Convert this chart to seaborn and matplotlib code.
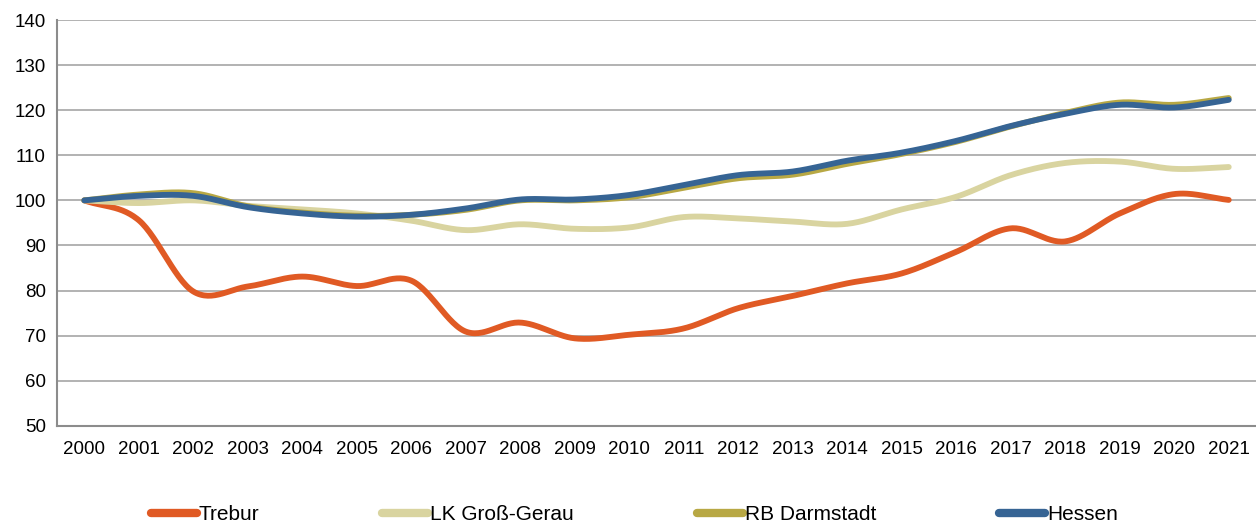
import numpy as np
import pandas as pd
import matplotlib
matplotlib.use('Agg')
import matplotlib.pyplot as plt
import seaborn as sns
from matplotlib.ticker import MultipleLocator, FixedLocator

# values (index, 2000 = 100)
years = list(range(2000, 2022))
trebur = [100, 95.6, 79.8, 80.9, 83.1, 81.0, 82.2, 70.9, 72.9, 69.4, 70.2,
          71.6, 76.1, 78.8, 81.6, 83.8, 88.6, 93.8, 90.9, 97.1, 101.4, 100.1]
lk_gross_gerau = [100, 99.4, 100.0, 98.8, 98.0, 97.1, 95.5, 93.4, 94.7, 93.7, 94.0,
                  96.3, 96.0, 95.3, 94.8, 98.0, 100.8, 105.6, 108.3, 108.6, 107.0, 107.4]
rb_darmstadt = [100, 101.3, 101.6, 98.7, 97.3, 96.6, 96.8, 97.9, 100.0, 100.0, 100.7,
                102.8, 104.9, 105.7, 108.1, 110.3, 113.0, 116.4, 119.4, 121.7, 121.2, 122.7]
hessen = [100, 101.0, 101.0, 98.5, 97.1, 96.4, 96.8, 98.2, 100.2, 100.2, 101.2,
          103.4, 105.6, 106.4, 108.8, 110.6, 113.2, 116.5, 119.2, 121.2, 120.6, 122.3]

series = {'Trebur': trebur, 'LK Groß-Gerau': lk_gross_gerau,
          'RB Darmstadt': rb_darmstadt, 'Hessen': hessen}
colors = {'Trebur': '#E05A24', 'LK Groß-Gerau': '#D9D4A0',
          'RB Darmstadt': '#B8A844', 'Hessen': '#366494'}


def smooth(y, n=30):
    # catmull-rom style smoothing like the spreadsheet "smoothed line" option
    y = np.asarray(y, dtype=float)
    x = np.arange(len(y), dtype=float)
    px = np.concatenate([[2 * x[0] - x[1]], x, [2 * x[-1] - x[-2]]])
    py = np.concatenate([[2 * y[0] - y[1]], y, [2 * y[-1] - y[-2]]])
    xs, ys = [], []
    for i in range(1, len(px) - 2):
        t = np.linspace(0, 1, n, endpoint=False)
        for arr, out in ((px, xs), (py, ys)):
            p0, p1, p2, p3 = arr[i - 1], arr[i], arr[i + 1], arr[i + 2]
            out.append(0.5 * ((2 * p1) + (-p0 + p2) * t +
                              (2 * p0 - 5 * p1 + 4 * p2 - p3) * t ** 2 +
                              (-p0 + 3 * p1 - 3 * p2 + p3) * t ** 3))
    xs.append([x[-1]])
    ys.append([y[-1]])
    return np.concatenate(xs), np.concatenate(ys)


frames = []
for name, vals in series.items():
    sx, sy = smooth(vals)
    frames.append(pd.DataFrame({'x': sx, 'y': sy, 'Gebiet': name}))
df = pd.concat(frames, ignore_index=True)

sns.set_style('white')
plt.rcParams['font.family'] = ['Liberation Sans Narrow', 'Liberation Sans', 'DejaVu Sans']
plt.rcParams['text.color'] = 'black'
plt.rcParams['xtick.labelcolor'] = 'black'
plt.rcParams['ytick.labelcolor'] = 'black'

fig = plt.figure(figsize=(12.56, 5.27), dpi=100)
ax = fig.add_axes([0.0454, 0.192, 0.9546, 0.77])

for name in series:
    sub = df[df['Gebiet'] == name]
    sns.lineplot(data=sub, x='x', y='y', ax=ax, color=colors[name], lw=4.2,
                 sort=False, estimator=None, label=name,
                 solid_capstyle='round')

ax.set_xlim(-0.5, len(years) - 0.5)
ax.set_ylim(50, 140)
ax.yaxis.set_major_locator(MultipleLocator(10))
ax.set_xticks(range(len(years)))
ax.set_xticklabels([str(y) for y in years])
ax.xaxis.set_minor_locator(FixedLocator(np.arange(-0.5, len(years), 1.0)))
ax.tick_params(axis='x', which='major', length=0, pad=11, labelsize=13.5)
ax.tick_params(axis='x', which='minor', length=6, width=1.5, color='#8C8C8C', direction='out')
ax.tick_params(axis='y', length=5, width=1.2, color='#8C8C8C', labelsize=13.5, pad=3)
ax.set_xlabel('')
ax.set_ylabel('')
ax.grid(axis='y', color='#A6A6A6', lw=1.2)
ax.set_axisbelow(True)
for s in ['top', 'right']:
    ax.spines[s].set_visible(False)
for s in ['left', 'bottom']:
    ax.spines[s].set_color('#8C8C8C')
    ax.spines[s].set_linewidth(1.5)

handles, labels = ax.get_legend_handles_labels()
ax.get_legend().remove()
leg = fig.legend(handles, labels, loc='lower center', bbox_to_anchor=(0.505, -0.03), ncol=4,
                 frameon=False, fontsize=15, handlelength=2.2, handletextpad=0.1,
                 columnspacing=5.9)
for h in leg.legend_handles:
    h.set_linewidth(6)

fig.savefig('out.png', dpi=100)
